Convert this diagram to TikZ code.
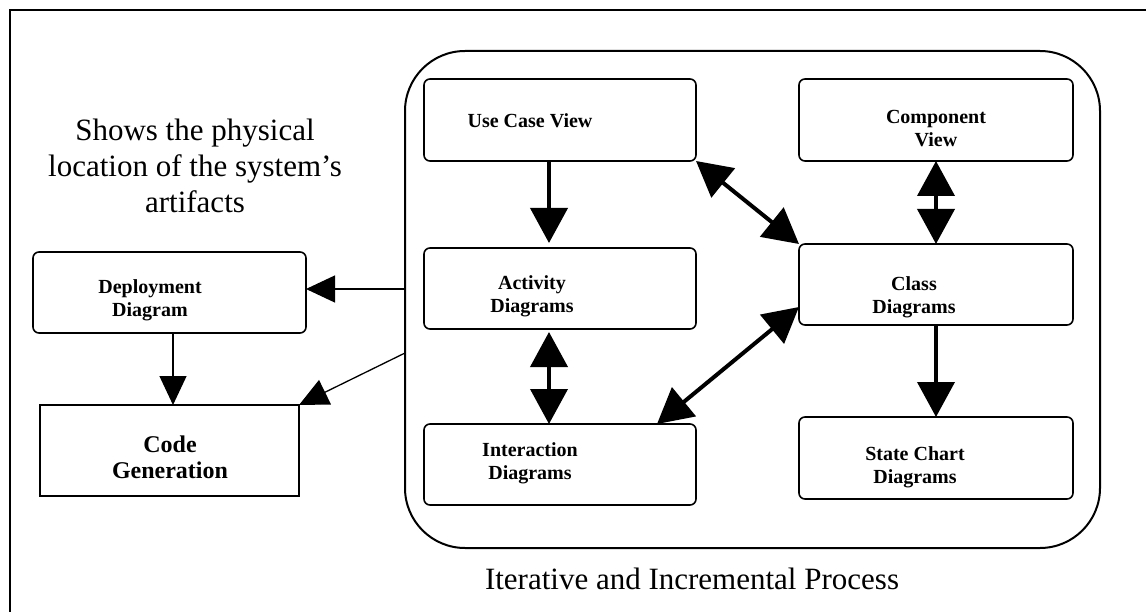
\documentclass[tikz,border=0pt]{standalone}
\usepackage{fontspec}
\setmainfont{Liberation Serif}
\usetikzlibrary{arrows.meta}
\begin{document}
\begin{tikzpicture}[x=1pt,y=-1pt,
  box/.style={draw,line width=1.6pt,rounded corners=6pt,inner sep=0pt,outer sep=0pt},
  plainbox/.style={draw,line width=1.6pt,inner sep=0pt,outer sep=0pt},
  boxlabel/.style={font=\fontsize{20}{23}\selectfont\bfseries,align=center,inner sep=0pt},
  biglabel/.style={font=\fontsize{31}{36}\selectfont,align=center,inner sep=0pt},
  bigarrow/.style={line width=4pt,-{Triangle[length=35pt,width=37pt]}},
  bigboth/.style={line width=4pt,{Triangle[length=35pt,width=37pt]}-{Triangle[length=35pt,width=37pt]}},
  thinarrow/.style={line width=1.3pt,-{Triangle[length=29pt,width=27pt]}},
]
\useasboundingbox (0,0) rectangle (1146,612);

% partial outer frame
\coordinate (frameL) at (10,612);
\coordinate (frameC) at (10,10);
\coordinate (frameR) at (1146,10);
\draw[line width=2pt] (frameL) -- (frameC) -- (frameR);

% process container
\node[draw,line width=2pt,rounded corners=60pt,minimum width=695pt,minimum height=497pt,inner sep=0pt,outer sep=0pt] (proc) at (752.5,299.5) {};

% views and diagrams
\node[box,minimum width=272pt,minimum height=82pt] (uc) at (560,120) {};
\node[box,minimum width=272pt,minimum height=81pt] (act) at (560,288.5) {};
\node[box,minimum width=272pt,minimum height=81pt] (inter) at (560,464.5) {};
\node[box,minimum width=274pt,minimum height=82pt] (comp) at (936,120) {};
\node[box,minimum width=274pt,minimum height=81pt] (cls) at (936,284.5) {};
\node[box,minimum width=274pt,minimum height=82pt] (state) at (936,458) {};
\node[box,minimum width=273pt,minimum height=81pt] (dep) at (169.5,292.5) {};
\node[plainbox,minimum width=259pt,minimum height=91pt] (code) at (169.5,450.5) {};

% labels
\node[boxlabel] (uct) at (530,121) {Use Case View};
\node[boxlabel] (actt) at (532,296) {Activity\\Diagrams};
\node[boxlabel] (intert) at (530,463) {Interaction\\Diagrams};
\node[boxlabel] (compt) at (936,129) {Component\\View};
\node[boxlabel] (clst) at (914,297) {Class\\Diagrams};
\node[boxlabel] (statet) at (915,467) {State Chart\\Diagrams};
\node[boxlabel] (dept) at (150,300) {Deployment\\Diagram};
\node[boxlabel,font=\fontsize{24}{26}\selectfont\bfseries] (codet) at (170,457) {Code\\Generation};
\node[biglabel] (note) at (195,166) {Shows the physical\\location of the system’s\\artifacts};
\node[biglabel] (iter) at (692,579) {Iterative and Incremental Process};

% connectors inside the process
\coordinate (ucS) at (549,161);
\coordinate (actS) at (549,329);
\coordinate (clsS) at (936,325);
\coordinate (interN) at (657,424);
\coordinate (clsW) at (799,307);
\draw[bigarrow,shorten >=5pt] (ucS) -- (ucS |- act.north);
\draw[bigboth] (uc.south east) -- (cls.north west);
\draw[bigboth] (comp.south) -- (cls.north);
\draw[bigboth,shorten <=3pt] (actS) -- (actS |- inter.north);
\draw[bigboth] (interN) -- (clsW);
\draw[bigarrow] (clsS) -- (state.north);

% connectors to deployment and code generation
\coordinate (procA) at (405,289);
\coordinate (procB) at (405,353);
\draw[thinarrow] (procA) -- (procA -| dep.east);
\draw[thinarrow] (procB) -- (code.north east);
\draw[thinarrow] (dep.south -| 173,0) -- (code.north -| 173,0);
\end{tikzpicture}
\end{document}
